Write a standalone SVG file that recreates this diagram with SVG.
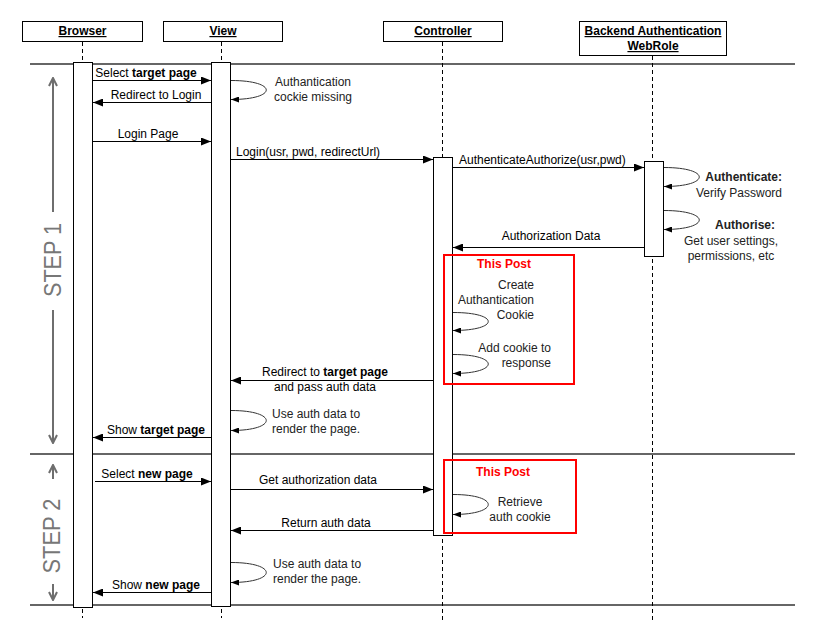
<svg xmlns="http://www.w3.org/2000/svg" width="816" height="641" viewBox="0 0 816 641">
<style>
text{font-family:"Liberation Sans",Arial,sans-serif;font-size:12px;fill:#000}
.hd{font-weight:bold;text-decoration:underline;text-anchor:middle}
.b{font-weight:bold}
.c{text-anchor:middle}
.r{text-anchor:end}
.nt{fill:#222}
.red{fill:#ff0000;font-weight:bold;text-anchor:middle}
.box{fill:#fff;stroke:#000;stroke-width:1}
.life{stroke:#000;stroke-width:1;stroke-dasharray:4,3;fill:none}
.sep{stroke:#666;stroke-width:2.2;fill:none}
.msg{stroke:#000;stroke-width:1;fill:none;marker-end:url(#ah)}
.loop{stroke:#333;stroke-width:1;fill:none;marker-end:url(#sh)}
.step{stroke:#6e6e6e;stroke-width:2;fill:none}
.steptxt{font-size:24px;fill:#777;text-anchor:middle}
.hl{fill:none;stroke:#ff0000;stroke-width:2}
</style>
<defs>
<marker id="ah" viewBox="0 0 10 8" refX="10" refY="4" markerWidth="10" markerHeight="8" markerUnits="userSpaceOnUse" orient="auto"><path d="M0,0 L10,4 L0,8 z" fill="#000"/></marker>
<marker id="sh" viewBox="0 0 8 6" refX="8" refY="3" markerWidth="8" markerHeight="6" markerUnits="userSpaceOnUse" orient="auto"><path d="M0,0 L8,3 L0,6 z" fill="#000"/></marker>
<marker id="oh" viewBox="0 0 10 10" refX="9" refY="5" markerWidth="10" markerHeight="10" markerUnits="userSpaceOnUse" orient="auto"><path d="M1,1 L9,5 L1,9" fill="none" stroke="#6e6e6e" stroke-width="2"/></marker>
</defs>
<rect width="816" height="641" fill="#fff"/>

<g id="separators">
<line class="sep" x1="30" y1="64" x2="795" y2="64"/>
<line class="sep" x1="30" y1="454" x2="795" y2="454"/>
<line class="sep" x1="30" y1="605" x2="795" y2="605"/>
</g>

<g id="steps">
<line class="step" x1="53" y1="212" x2="53" y2="78" marker-end="url(#oh)"/>
<line class="step" x1="53" y1="310" x2="53" y2="443" marker-end="url(#oh)"/>
<text class="steptxt" transform="translate(61,260) rotate(-90)" textLength="74" lengthAdjust="spacingAndGlyphs">STEP 1</text>
<line class="step" x1="53" y1="479" x2="53" y2="465" marker-end="url(#oh)"/>
<line class="step" x1="53" y1="584" x2="53" y2="600" marker-end="url(#oh)"/>
<text class="steptxt" transform="translate(60,536) rotate(-90)" textLength="75" lengthAdjust="spacingAndGlyphs">STEP 2</text>
</g>

<g id="browser">
<rect class="box" x="22.5" y="21.5" width="120" height="20"/>
<text class="hd" x="82.5" y="35">Browser</text>
<line class="life" x1="82.5" y1="42" x2="82.5" y2="618"/>
<rect class="box" x="73.5" y="62.5" width="19" height="545"/>
</g>

<g id="view">
<rect class="box" x="163.5" y="21.5" width="119" height="20"/>
<text class="hd" x="223" y="35">View</text>
<line class="life" x1="221.5" y1="42" x2="221.5" y2="618"/>
<rect class="box" x="211.5" y="62.5" width="19" height="544"/>
</g>

<g id="controller">
<rect class="box" x="383.5" y="21.5" width="119" height="20"/>
<text class="hd" x="443" y="35">Controller</text>
<line class="life" x1="442.5" y1="42" x2="442.5" y2="620"/>
<rect class="box" x="433.5" y="157.5" width="19" height="378"/>
</g>

<g id="backend">
<rect class="box" x="579.5" y="21.5" width="147" height="34"/>
<text class="hd" x="653" y="35">Backend Authentication</text>
<text class="hd" x="653" y="50">WebRole</text>
<line class="life" x1="652.5" y1="56" x2="652.5" y2="620"/>
<rect class="box" x="644.5" y="161.5" width="19" height="95"/>
</g>

<g id="connectors">
<line class="msg" x1="93" y1="80.5" x2="211" y2="80.5"/>
<line class="msg" x1="211" y1="102.5" x2="93" y2="102.5"/>
<path class="loop" d="M231,80.5 C278,80.5 278,99.5 231,99.5"/>
<line class="msg" x1="93" y1="141.5" x2="211" y2="141.5"/>
<line class="msg" x1="231" y1="159.5" x2="433" y2="159.5"/>
<line class="msg" x1="453" y1="167.5" x2="644" y2="167.5"/>
<path class="loop" d="M664,167.5 C711,167.5 711,186.5 664,186.5"/>
<path class="loop" d="M664,210.5 C711,210.5 711,229.5 664,229.5"/>
<line class="msg" x1="644" y1="247.5" x2="453" y2="247.5"/>
<path class="loop" d="M453,312.5 C500,312.5 500,330.5 453,330.5"/>
<path class="loop" d="M453,354.5 C500,354.5 500,373.5 453,373.5"/>
<line class="msg" x1="433" y1="380.5" x2="231" y2="380.5"/>
<path class="loop" d="M231,410.5 C278,410.5 278,430.5 231,430.5"/>
<line class="msg" x1="211" y1="437.5" x2="93" y2="437.5"/>
<line class="msg" x1="95" y1="481.5" x2="211" y2="481.5"/>
<line class="msg" x1="231" y1="489.5" x2="433" y2="489.5"/>
<path class="loop" d="M453,494.5 C500,494.5 500,514.5 453,514.5"/>
<line class="msg" x1="433" y1="530.5" x2="231" y2="530.5"/>
<path class="loop" d="M231,562.5 C278,562.5 278,582.5 231,582.5"/>
<line class="msg" x1="211" y1="592.5" x2="93" y2="592.5"/>
</g>

<g id="labels">
<text class="c" x="146" y="77">Select <tspan class="b">target page</tspan></text>
<text class="c" x="156" y="99">Redirect to Login</text>
<text class="c nt" x="313" y="86">Authantication</text>
<text class="c nt" x="313" y="101">cockie missing</text>
<text class="c" x="148" y="138">Login Page</text>
<text x="236" y="156">Login(usr, pwd, redirectUrl)</text>
<text x="459" y="164">AuthenticateAuthorize(usr,pwd)</text>
<text class="r b nt" x="782" y="181">Authenticate:</text>
<text class="r nt" x="782" y="197">Verify Password</text>
<text class="c b nt" x="745" y="229">Authorise:</text>
<text class="c nt" x="731" y="245">Get user settings,</text>
<text class="c nt" x="731" y="260">permissions, etc</text>
<text class="c" x="551" y="240">Authorization Data</text>
<text class="c" x="325" y="376">Redirect to <tspan class="b">target page</tspan></text>
<text class="c" x="325" y="391">and pass auth data</text>
<text class="nt" x="272" y="418">Use auth data to</text>
<text class="nt" x="272" y="433">render the page.</text>
<text class="c" x="156" y="434">Show <tspan class="b">target page</tspan></text>
<text class="c" x="147" y="478">Select <tspan class="b">new page</tspan></text>
<text class="c" x="318" y="484">Get authorization data</text>
<text class="c" x="326" y="527">Return auth data</text>
<text class="nt" x="273" y="568">Use auth data to</text>
<text class="nt" x="273" y="583">render the page.</text>
<text class="c" x="156" y="589">Show <tspan class="b">new page</tspan></text>
</g>

<g id="this-post-1">
<rect class="hl" x="444" y="255" width="130" height="129"/>
<text class="red" x="504" y="268">This Post</text>
<text class="r nt" x="534" y="289">Create</text>
<text class="r nt" x="534" y="304">Authantication</text>
<text class="r nt" x="534" y="319">Cookie</text>
<text class="r nt" x="551" y="352">Add cookie to</text>
<text class="r nt" x="551" y="367">response</text>
</g>

<g id="this-post-2">
<rect class="hl" x="444" y="460" width="132" height="73"/>
<text class="red" x="503" y="476">This Post</text>
<text class="c nt" x="520" y="506">Retrieve</text>
<text class="c nt" x="520" y="521">auth cookie</text>
</g>
</svg>
